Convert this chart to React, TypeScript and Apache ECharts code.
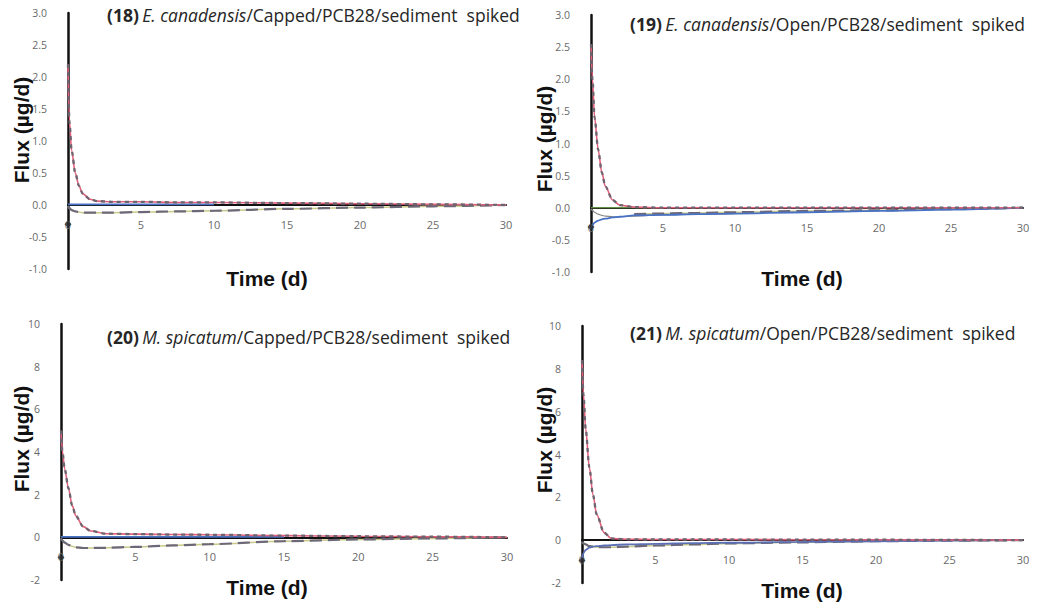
import React, { useEffect, useRef } from "react";
import * as echarts from "echarts";

// sample times (d)
const T = [0, 0.1, 0.25, 0.5, 0.75, 1, 1.5, 2, 3, 5, 7.5, 10, 15, 20, 25, 30];
const X_TICKS = [0, 5, 10, 15, 20, 25, 30];

// Panel 18: E. canadensis / Capped
const red18 = [2.2, 1.3, 0.85, 0.5, 0.3, 0.18, 0.09, 0.06, 0.05, 0.05, 0.04, 0.04, 0.03, 0.02, 0.01, 0.0];
const blue18 = [0.01, 0.01, 0.01, 0.01, 0.01, 0.01, 0.01, 0.01, 0.01, 0.01, 0.01, 0.01, null, null, null, null];
const olive18 = [-0.02, -0.05, -0.08, -0.1, -0.11, -0.12, -0.12, -0.12, -0.12, -0.11, -0.1, -0.09, -0.06, -0.04, -0.02, 0.0];
const mark18 = [-0.3];

// Panel 19: E. canadensis / Open
const red19 = [2.55, 2.0, 1.4, 0.9, 0.55, 0.33, 0.12, 0.04, 0.01, 0.0, 0.0, 0.0, 0.0, 0.0, 0.0, 0.0];
const green19 = [0.0, 0.0, 0.0, 0.0, 0.0, 0.0, 0.0, 0.0, 0.0, 0.0, null, null, null, null, null, null];
const blue19 = [-0.32, -0.27, -0.23, -0.2, -0.18, -0.17, -0.15, -0.14, -0.12, -0.11, -0.1, -0.09, -0.07, -0.05, -0.03, 0.0];
const grey19 = [-0.02, -0.04, -0.07, -0.1, -0.12, -0.13, -0.14, -0.14, -0.13, -0.11, -0.1, -0.09, null, null, null, null];
const olive19 = [null, null, null, null, null, null, null, null, -0.1, -0.09, -0.08, -0.07, -0.05, -0.04, -0.02, 0.0];
const mark19 = [-0.3];

// Panel 20: M. spicatum / Capped
const red20 = [5.0, 4.0, 3.2, 2.3, 1.5, 1.0, 0.5, 0.3, 0.17, 0.15, 0.13, 0.12, 0.08, 0.05, 0.03, 0.0];
const blue20 = [0.02, 0.02, 0.02, 0.02, 0.02, 0.02, 0.02, 0.02, 0.02, 0.02, 0.02, 0.02, 0.02, null, null, null];
const olive20 = [-0.05, -0.15, -0.25, -0.35, -0.42, -0.47, -0.5, -0.5, -0.49, -0.45, -0.38, -0.32, -0.18, -0.1, -0.05, 0.0];
const mark20 = [-0.95];

// Panel 21: M. spicatum / Open
const red21 = [8.4, 6.8, 5.2, 3.4, 2.1, 1.2, 0.35, 0.08, 0.04, 0.03, 0.03, 0.03, 0.02, 0.02, 0.01, 0.0];
const blue21 = [-0.9, -0.6, -0.45, -0.35, -0.3, -0.28, -0.25, -0.23, -0.2, -0.17, -0.14, -0.12, -0.08, -0.05, -0.02, 0.0];
const olive21 = [-0.1, -0.15, -0.2, -0.28, -0.3, -0.32, -0.33, -0.33, -0.3, -0.25, -0.2, -0.15, -0.1, -0.05, -0.02, 0.0];
const mark21 = [-0.95];

const pairs = (vals: (number | null)[]) =>
  T.map((t, i) => [t, vals[i]]).filter((p) => p[1] !== null);

type Panel = {
  num: string;
  species: string;
  rest: string;
  grid: { left: number; top: number; width: number; height: number };
  y: { min: number; max: number; interval: number; dec: number };
  red: number[];
  blue?: (number | null)[];
  blueColor?: string;
  green?: (number | null)[];
  grey?: (number | null)[];
  olive: (number | null)[];
  mark: number[];
  titlePos: [number, number];
  fluxPos: [number, number];
  timePos: [number, number];
};

const panels: Panel[] = [
  {
    num: "(18)", species: "E. canadensis", rest: "/Capped/PCB28/sediment  spiked",
    grid: { left: 68, top: 13, width: 438, height: 256 },
    y: { min: -1, max: 3, interval: 0.5, dec: 1 },
    red: red18, blue: blue18, olive: olive18, mark: mark18,
    titlePos: [107, 15], fluxPos: [21, 130], timePos: [267, 278],
  },
  {
    num: "(19)", species: "E. canadensis", rest: "/Open/PCB28/sediment  spiked",
    grid: { left: 591, top: 15, width: 432, height: 257 },
    y: { min: -1, max: 3, interval: 0.5, dec: 1 },
    red: red19, blue: blue19, green: green19, grey: grey19, olive: olive19, mark: mark19,
    titlePos: [630, 24], fluxPos: [544, 139], timePos: [802, 278],
  },
  {
    num: "(20)", species: "M. spicatum", rest: "/Capped/PCB28/sediment  spiked",
    grid: { left: 61, top: 324, width: 446, height: 256 },
    y: { min: -2, max: 10, interval: 2, dec: 0 },
    red: red20, blue: blue20, olive: olive20, mark: mark20,
    titlePos: [107, 337], fluxPos: [21, 439], timePos: [267, 587],
  },
  {
    num: "(21)", species: "M. spicatum", rest: "/Open/PCB28/sediment  spiked",
    grid: { left: 582, top: 326, width: 441, height: 257 },
    y: { min: -2, max: 10, interval: 2, dec: 0 },
    red: red21, blue: blue21, blueColor: "#5b6fb5", olive: olive21, mark: mark21,
    titlePos: [630, 333], fluxPos: [544, 440], timePos: [802, 590],
  },
];

export default function App() {
  const ref = useRef<HTMLDivElement>(null);
  useEffect(() => {
    document.body.style.margin = "0";
    const chart = echarts.init(ref.current!, undefined, { renderer: "svg" });
    const series: any[] = [];
    const graphic: any[] = [];
    panels.forEach((p, gi) => {
      const base = {
        type: "line", xAxisIndex: gi, yAxisIndex: gi, showSymbol: false, symbol: "none",
        silent: true, smooth: 0.3, smoothMonotone: "x",
      };
      series.push({ ...base, data: pairs(p.olive), lineStyle: { color: "#c9c98a", width: 1.5 }, z: 2 });
      series.push({ ...base, data: pairs(p.olive), lineStyle: { color: "#6d6878", width: 2.2, type: [12, 6] }, z: 3 });
      if (p.grey) series.push({ ...base, data: pairs(p.grey), lineStyle: { color: "#8a8a8a", width: 1.2 }, z: 3 });
      if (p.green) series.push({ ...base, data: pairs(p.green), lineStyle: { color: "#7dbb5a", width: 1.2 }, z: 4 });
      if (p.blue) series.push({ ...base, data: pairs(p.blue), lineStyle: { color: p.blueColor || "#4a72c4", width: 1.8 }, z: 4 });
      series.push({ ...base, data: pairs(p.red), lineStyle: { color: "#e0607a", width: 1.6 }, z: 5 });
      series.push({ ...base, data: pairs(p.red), lineStyle: { color: "#6e6470", width: 2.3, type: [4, 4] }, z: 6 });
      series.push({
        type: "scatter", xAxisIndex: gi, yAxisIndex: gi, silent: true,
        data: p.mark.map((v) => [0, v]), symbol: "diamond", symbolSize: 7,
        itemStyle: { color: "#2a2a2a" }, z: 7,
      });
      graphic.push({
        type: "text", x: p.titlePos[0], y: p.titlePos[1],
        style: {
          text: `{b|${p.num}} {i|${p.species}}{n|${p.rest}}`,
          verticalAlign: "middle",
          rich: {
            b: { fontFamily: "Open Sans", fontWeight: "bold", fontSize: 17.5, fill: "#262626" },
            i: { fontFamily: "Open Sans", fontStyle: "italic", fontSize: 17.5, fill: "#262626" },
            n: { fontFamily: "Open Sans", fontSize: 17.5, fill: "#262626" },
          },
        },
      });
      graphic.push({
        type: "text", x: p.fluxPos[0], y: p.fluxPos[1], rotation: Math.PI / 2,
        style: {
          text: "Flux (µg/d)", align: "center", verticalAlign: "middle",
          fontFamily: "Liberation Sans", fontWeight: "bold", fontSize: 21, fill: "#111",
        },
      });
      graphic.push({
        type: "text", x: p.timePos[0], y: p.timePos[1],
        style: {
          text: "Time (d)", align: "center", verticalAlign: "middle",
          fontFamily: "Liberation Sans", fontWeight: "bold", fontSize: 21, fill: "#111",
        },
      });
    });

    chart.setOption({
      animation: false,
      backgroundColor: "#ffffff",
      grid: panels.map((p) => ({ ...p.grid, containLabel: false })),
      xAxis: panels.map((p, gi) => ({
        type: "value", gridIndex: gi, min: X_TICKS[0], max: X_TICKS[X_TICKS.length - 1], interval: 5,
        position: "bottom",
        offset: -(p.grid.height * (0 - p.y.min)) / (p.y.max - p.y.min),
        axisLine: { show: true, onZero: false, lineStyle: { color: "#111", width: 2 } },
        axisTick: { show: false }, splitLine: { show: false },
        axisLabel: { color: "#6a6a6a", fontSize: 11, margin: 14, fontFamily: "Open Sans", showMinLabel: true, showMaxLabel: true },
      })),
      yAxis: panels.map((p, gi) => ({
        type: "value", gridIndex: gi, min: p.y.min, max: p.y.max, interval: p.y.interval,
        axisLine: { show: true, onZero: false, lineStyle: { color: "#111", width: 2.5 } },
        axisTick: { show: false }, splitLine: { show: false },
        axisLabel: {
          color: "#6a6a6a", fontSize: 10.5, margin: 21, fontFamily: "Open Sans",
          formatter: (v: number) => v.toFixed(p.y.dec),
        },
      })),
      series,
      graphic,
    });
    return () => chart.dispose();
  }, []);
  return <div ref={ref} style={{ width: 1048, height: 608 }} />;
}
